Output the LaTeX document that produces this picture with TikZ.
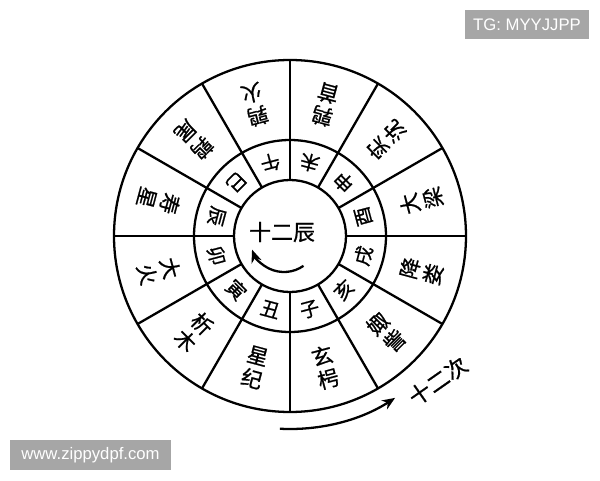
\documentclass[tikz,border=0pt]{standalone}
\usepackage{fontspec}
\newfontfamily\cjkfont{Noto Sans CJK SC}[FakeBold=0.8]
\newfontfamily\tagfont{Liberation Sans}
\usetikzlibrary{arrows.meta}

\begin{document}
\begin{tikzpicture}[
  line width=1.3pt,
  >={Stealth[length=2.6mm, width=2.1mm]},
  cilabel/.style={font=\cjkfont\fontsize{12}{13.5}\selectfont, inner sep=0pt, align=center},
  chenlabel/.style={font=\cjkfont\fontsize{11}{12}\selectfont, inner sep=0pt},
  title/.style={font=\cjkfont\fontsize{12.5}{14}\selectfont, inner sep=0pt},
  tag/.style={fill=black!35, text=white, font=\tagfont\fontsize{9.5}{11}\selectfont, inner sep=0pt},
]
\useasboundingbox (0,0) rectangle (12,9.6);

\def\rout{3.52}
\def\rmid{1.92}
\def\rin{1.12}
\def\rci{2.72}
\def\rchen{1.52}

\coordinate (ctr) at (5.80,4.88);

% ========== rings ==========
\draw (ctr) circle[radius=\rout];
\draw (ctr) circle[radius=\rmid];
\draw (ctr) circle[radius=\rin];
\foreach \a in {0,30,...,330}
  \draw ([shift={(\a:\rin)}]ctr) -- ([shift={(\a:\rout)}]ctr);

% ========== outer ring: twelve ci ==========
\node[cilabel, rotate=165] (ci_chunshou) at ([shift={(75:\rci)}]ctr) {鹑\\首};
\node[cilabel, rotate=195] (ci_chunhuo) at ([shift={(105:\rci)}]ctr) {鹑\\火};
\node[cilabel, rotate=225] (ci_chunwei) at ([shift={(135:\rci)}]ctr) {鹑\\尾};
\node[cilabel, rotate=255] (ci_shouxing) at ([shift={(165:\rci)}]ctr) {寿\\星};
\node[cilabel, rotate=285] (ci_dahuo) at ([shift={(195:\rci)}]ctr) {大\\火};
\node[cilabel, rotate=315] (ci_ximu) at ([shift={(225:\rci)}]ctr) {析\\木};
\node[cilabel, rotate=345] (ci_xingji) at ([shift={(255:\rci)}]ctr) {星\\纪};
\node[cilabel, rotate=15] (ci_xuanxiao) at ([shift={(285:\rci)}]ctr) {玄\\枵};
\node[cilabel, rotate=45] (ci_juzi) at ([shift={(315:\rci)}]ctr) {娵\\訾};
\node[cilabel, rotate=75] (ci_xianglou) at ([shift={(345:\rci)}]ctr) {降\\娄};
\node[cilabel, rotate=105] (ci_daliang) at ([shift={(15:\rci)}]ctr) {大\\梁};
\node[cilabel, rotate=135] (ci_shishen) at ([shift={(45:\rci)}]ctr) {实\\沈};

% ========== middle ring: twelve chen ==========
\node[chenlabel, rotate=165] (chen_wei) at ([shift={(75:\rchen)}]ctr) {未};
\node[chenlabel, rotate=195] (chen_wu) at ([shift={(105:\rchen)}]ctr) {午};
\node[chenlabel, rotate=225] (chen_si) at ([shift={(135:\rchen)}]ctr) {巳};
\node[chenlabel, rotate=255] (chen_chen) at ([shift={(165:\rchen)}]ctr) {辰};
\node[chenlabel, rotate=285] (chen_mao) at ([shift={(195:\rchen)}]ctr) {卯};
\node[chenlabel, rotate=315] (chen_yin) at ([shift={(225:\rchen)}]ctr) {寅};
\node[chenlabel, rotate=345] (chen_chou) at ([shift={(255:\rchen)}]ctr) {丑};
\node[chenlabel, rotate=15] (chen_zi) at ([shift={(285:\rchen)}]ctr) {子};
\node[chenlabel, rotate=45] (chen_hai) at ([shift={(315:\rchen)}]ctr) {亥};
\node[chenlabel, rotate=75] (chen_xu) at ([shift={(345:\rchen)}]ctr) {戌};
\node[chenlabel, rotate=105] (chen_you) at ([shift={(15:\rchen)}]ctr) {酉};
\node[chenlabel, rotate=135] (chen_shen) at ([shift={(45:\rchen)}]ctr) {申};

% ========== centre and direction arrows ==========
\node[title] (chen_title) at (5.64,4.96) {十二辰};
\coordinate (arrowctr) at (5.68,4.84);
\draw[->] ([shift={(-55:0.68)}]arrowctr) arc[start angle=-55, end angle=-160, radius=0.68];

\draw[->] ([shift={(267:3.86)}]ctr) arc[start angle=267, end angle=303, radius=3.86];
\node[title, rotate=35] (ci_title) at (8.76,1.98) {十二次};

% ========== corner tags ==========
\node[tag, minimum width=2.48cm, minimum height=0.58cm] (tag_tg) at (10.54,9.11) {TG: MYYJJPP};
\node[tag, minimum width=3.22cm, minimum height=0.60cm] (tag_site) at (1.81,0.50) {www.zippydpf.com};

\end{tikzpicture}
\end{document}
